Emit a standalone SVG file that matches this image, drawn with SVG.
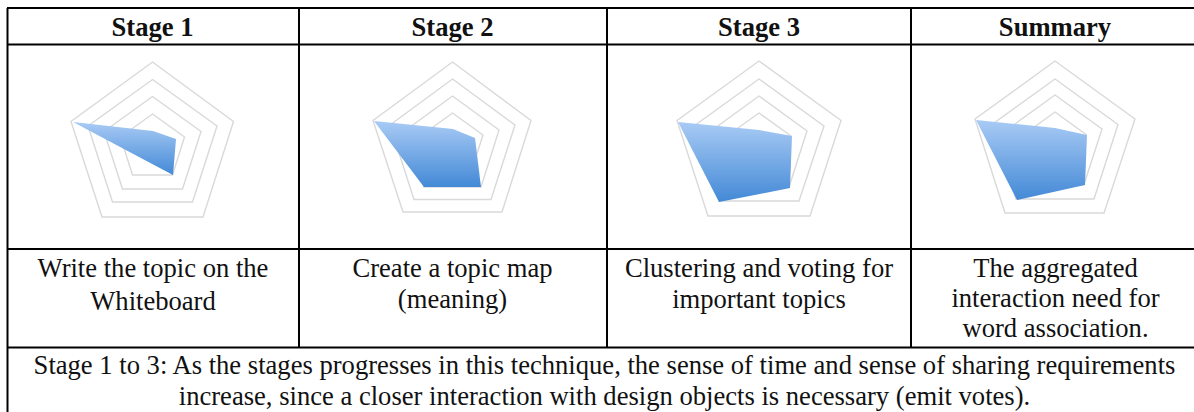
<svg xmlns="http://www.w3.org/2000/svg" width="1194" height="412" viewBox="0 0 1194 412">
<style>
text{font-family:"Liberation Serif","Times New Roman",serif;fill:#111;text-anchor:middle}
.h{font-size:26.6px;font-weight:bold}
.t{font-size:26.6px}
.ring{fill:none;stroke:#d9d9d9;stroke-width:1.4}
.data{fill:url(#blue);filter:url(#soft)}
.rule{stroke:#000;stroke-width:2;fill:none}
</style>
<defs>
<linearGradient id="blue" x1="0" y1="0" x2="0" y2="1"><stop offset="0" stop-color="#a9cbf5"/><stop offset="1" stop-color="#4389d6"/></linearGradient>
<filter id="soft" x="-5%" y="-5%" width="110%" height="110%"><feGaussianBlur stdDeviation="0.5"/></filter>
</defs>
<rect width="1194" height="412" fill="#fff"/>
<g id="table" class="rule">
<path d="M7.5 8V412M299 8V347.5M607 8V347.5M911 8V347.5M7 8H1194M7 44.5H1194M7 249H1194M7 347.5H1194"/>
</g>
<g id="stage1">
<text class="h" x="152.5" y="36">Stage 1</text>
<polygon class="ring" points="152.5,62 233.5,121.5 203,217 102,217 71,121.5"/>
<polygon class="ring" points="152.5,79.5 217,126 192.5,202 112.500,202 88,126"/>
<polygon class="ring" points="152.5,96.500 201,131.500 182.500,189 122.500,189 104,131.500"/>
<polygon class="ring" points="152.500,114 184.500,137 172.500,175 132.500,175 120.500,137"/>
<polygon class="data" points="73,122 153,131 176,139 173,175"/>
<text class="t" x="153" y="277">Write the topic on the</text>
<text class="t" x="153" y="310">Whiteboard</text>
</g>
<g id="stage2">
<text class="h" x="452.500" y="36">Stage 2</text>
<polygon class="ring" points="452.500,62 531,120.500 502,212 403,212 373,120.500"/>
<polygon class="ring" points="452.500,79 515,125 491,199.500 414,199.500 390,125"/>
<polygon class="ring" points="452.500,96 499,130 481,187 424,187 406,130"/>
<polygon class="ring" points="452.500,113 483,135 471,172 434,172 422,135"/>
<polygon class="data" points="374,121 453,129 475,138 481,187 424,187"/>
<text class="t" x="452.500" y="277">Create a topic map</text>
<text class="t" x="452.500" y="308">(meaning)</text>
</g>
<g id="stage3">
<text class="h" x="759" y="36">Stage 3</text>
<polygon class="ring" points="759,61 841,120.500 810,216 708,216 677,120.500"/>
<polygon class="ring" points="759,79 824,126 799,201 719,201 694,126"/>
<polygon class="ring" points="759,96 807,131 789,187 729,187 711,131"/>
<polygon class="ring" points="759,113 791,136 779,173 739,173 727,136"/>
<polygon class="data" points="678,122 759,130 792,136 790,188 719,202"/>
<text class="t" x="759" y="277">Clustering and voting for</text>
<text class="t" x="759" y="308">important topics</text>
</g>
<g id="summary">
<text class="h" x="1055" y="36">Summary</text>
<polygon class="ring" points="1055,61 1135,119 1104,213 1005,213 975,119"/>
<polygon class="ring" points="1055,79 1118,124.500 1094,199 1016,199 992,124.500"/>
<polygon class="ring" points="1055,95 1102,129 1084,184.500 1026,184.500 1008,129"/>
<polygon class="ring" points="1055,112 1086,134.500 1074,171 1036,171 1024,134.500"/>
<polygon class="data" points="976,120 1055,128 1087,135 1085,185 1017,200"/>
<text class="t" x="1055.500" y="277">The aggregated</text>
<text class="t" x="1055.500" y="307">interaction need for</text>
<text class="t" x="1055.500" y="337">word association.</text>
</g>
<g id="note">
<text class="t" x="604.500" y="374">Stage 1 to 3: As the stages progresses in this technique, the sense of time and sense of sharing requirements</text>
<text class="t" x="604.500" y="405">increase, since a closer interaction with design objects is necessary (emit votes).</text>
</g>
</svg>
